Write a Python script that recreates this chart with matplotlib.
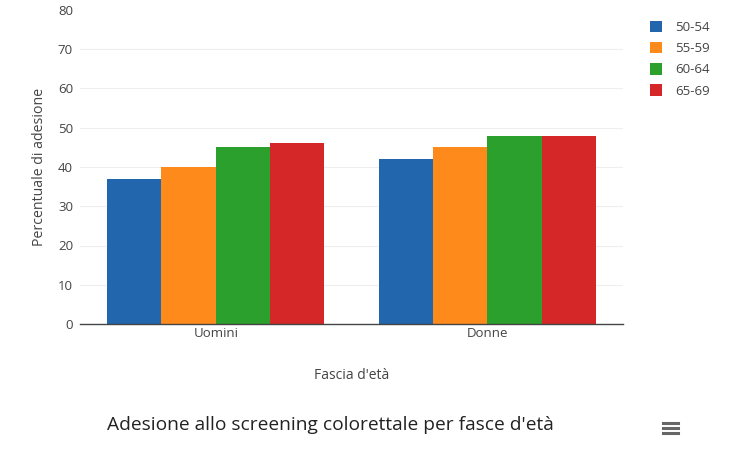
import matplotlib.pyplot as plt
import numpy as np
from matplotlib.lines import Line2D

plt.rcParams["font.family"] = ["Open Sans", "DejaVu Sans"]

categories = ["Uomini", "Donne"]
age_groups = ["50-54", "55-59", "60-64", "65-69"]
values = {
    "50-54": [37, 42],
    "55-59": [40, 45],
    "60-64": [45, 48],
    "65-69": [46, 48],
}
colors = ["#2266ae", "#ff8a1c", "#2ca02c", "#d62728"]
yticks = [0, 10, 20, 30, 40, 50, 60, 70, 80]


def main():
    fig = plt.figure(figsize=(7.33, 4.49), dpi=100, facecolor="white")
    ax = fig.add_axes([80 / 733, 1 - 324 / 449, 543 / 733, 314 / 449])

    x = np.arange(len(categories))
    group_w = 0.8
    bar_w = group_w / len(age_groups)
    handles = []
    for i, (grp, color) in enumerate(zip(age_groups, colors)):
        offset = -group_w / 2 + bar_w * (i + 0.5)
        b = ax.bar(x + offset, values[grp], width=bar_w, color=color, label=grp, zorder=2)
        handles.append(b)

    ax.set_xlim(-0.5, len(categories) - 0.5)
    ax.set_ylim(0, 80)
    ax.set_yticks(yticks)
    ax.set_xticks(x)
    ax.set_xticklabels(categories)
    ax.tick_params(axis="both", length=0, labelsize=9.5, colors="#444444")
    ax.tick_params(axis="y", pad=5)
    ax.tick_params(axis="x", pad=2)
    ax.grid(axis="y", color="#eeeeee", lw=0.8, zorder=0)
    gl = ax.yaxis.get_gridlines()
    gl[0].set_visible(False)
    gl[-1].set_visible(False)
    for s in ["top", "right", "left"]:
        ax.spines[s].set_visible(False)
    ax.spines["bottom"].set_color("#444444")
    ax.spines["bottom"].set_linewidth(1.0)
    ax.spines["bottom"].set_zorder(3)

    ax.set_xlabel("Fascia d'età", fontsize=10, color="#444444", labelpad=20)
    ax.set_ylabel("Percentuale di adesione", fontsize=10.2, color="#444444", labelpad=8)

    fig.legend(
        handles=handles,
        labels=age_groups,
        loc="upper left",
        bbox_to_anchor=(638 / 733, 1 - 9 / 449),
        frameon=False,
        fontsize=9.5,
        handlelength=0.95,
        handleheight=0.95,
        handletextpad=1.0,
        labelspacing=0.6,
        labelcolor="#444444",
    )

    fig.text(107 / 733, 1 - 425 / 449, "Adesione allo screening colorettale per fasce d'età",
             fontsize=13.8, color="#222222", va="center", ha="left")

    # menu icon
    for dy in (-5, 0, 5):
        yy = 1 - (428 + dy) / 449
        fig.add_artist(Line2D([663 / 733, 678 / 733], [yy, yy], color="#666666", lw=2.2))

    fig.savefig("out.png", dpi=100, facecolor="white")


if __name__ == "__main__":
    main()
